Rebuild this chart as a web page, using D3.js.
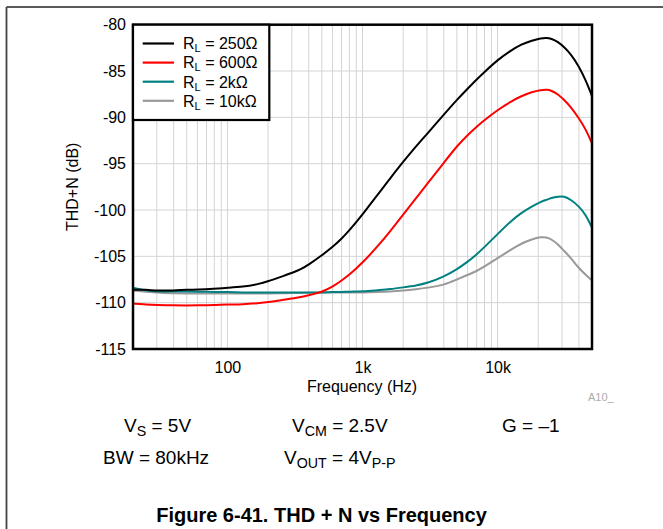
<!DOCTYPE html>
<html>
<head>
<meta charset="utf-8">
<script src="https://cdn.jsdelivr.net/npm/d3@7"></script>
<style>
  html, body { margin: 0; padding: 0; background: #fff; }
  svg { display: block; font-family: "Liberation Sans", Arial, sans-serif; }
</style>
</head>
<body>
<svg id="chart" width="663" height="529"></svg>
<script>
// ---- data ----
const freqs = [20, 25, 30, 40, 50, 60, 80, 100, 130, 170, 200, 250, 300, 350, 400, 500, 600, 700, 800, 1000,
  1300, 1600, 2000, 2500, 3000, 4000, 5000, 6000, 7000, 8000, 10000, 12500, 15000, 18000, 21000, 23000,
  25000, 28000, 31000, 35000, 40000, 45000, 50000];

const rl250 = [-108.6, -108.6, -108.7, -108.7, -108.6, -108.6, -108.5, -108.4, -108.3, -108.0, -107.7, -107.2, -106.8, -106.4, -105.9, -104.9, -104.0, -103.1, -102.2, -100.5,
  -98.3, -96.6, -94.8, -93.1, -91.8, -89.7, -88.1, -86.9, -85.9, -85.1, -83.8, -82.8, -82.1, -81.7, -81.45, -81.4,
  -81.5, -81.85, -82.4, -83.2, -84.5, -86.0, -87.7];

const rl600 = [-110.1, -110.2, -110.25, -110.3, -110.3, -110.3, -110.25, -110.2, -110.2, -110.05, -109.95, -109.75, -109.55, -109.4, -109.2, -108.85, -108.3, -107.6, -107.0, -105.7,
  -103.9, -102.3, -100.5, -98.7, -97.2, -94.9, -93.1, -91.9, -91.0, -90.3, -89.2, -88.3, -87.7, -87.25, -87.05, -87.0,
  -87.1, -87.5, -88.1, -88.9, -90.1, -91.3, -92.8];

const rl2k = [-108.4, -108.7, -108.8, -108.8, -108.8, -108.8, -108.85, -108.85, -108.9, -108.9, -108.9, -108.9, -108.9, -108.9, -108.9, -108.9, -108.85, -108.85, -108.8, -108.8,
  -108.65, -108.55, -108.35, -108.15, -107.9, -107.2, -106.4, -105.6, -104.8, -104.0, -102.6, -101.2, -100.3, -99.6, -99.1, -98.9,
  -98.7, -98.55, -98.5, -98.9, -99.6, -100.5, -101.9];

const rl10k = [-108.7, -108.85, -108.9, -109.0, -109.0, -109.0, -109.0, -109.0, -109.0, -109.0, -109.0, -109.0, -108.95, -108.95, -108.95, -108.9, -108.9, -108.9, -108.9, -108.9,
  -108.85, -108.8, -108.7, -108.55, -108.4, -108.1, -107.5, -107.0, -106.6, -106.1, -105.2, -104.3, -103.6, -103.15, -102.9, -102.95,
  -103.15, -103.7, -104.4, -105.2, -106.3, -107.0, -107.6];

const seriesLabels = ["250Ω", "600Ω", "2kΩ", "10kΩ"];
const seriesColors = ["#000000", "#ff0000", "#008080", "#999999"];
const seriesValues = [rl250, rl600, rl2k, rl10k];

const yTicks = [-80, -85, -90, -95, -100, -105, -110, -115];
const xTickValues = [100, 1000, 10000];
const xTickLabels = ["100", "1k", "10k"];

// ---- layout ----
const svg = d3.select("#chart");
const L = 133, R = 592, T = 24.7, B = 349;

const x = d3.scaleLog().domain([20, 50000]).range([L, R]);
const y = d3.scaleLinear().domain([-115, -80]).range([B, T]);

// outer frame lines
svg.append("line").attr("x1", 6.5).attr("x2", 663).attr("y1", 7).attr("y2", 7)
  .attr("stroke", "#222").attr("stroke-width", 1.5);
svg.append("line").attr("x1", 6.5).attr("x2", 6.5).attr("y1", 7).attr("y2", 529)
  .attr("stroke", "#444").attr("stroke-width", 1.8);

// grid
const minorX = [];
[10, 100, 1000, 10000].forEach(dec => {
  for (let m = 1; m <= 9; m++) {
    const v = dec * m;
    if (v > 20 && v < 50000) minorX.push(v);
  }
});
svg.append("g").selectAll("line").data(minorX).join("line")
  .attr("x1", d => x(d)).attr("x2", d => x(d)).attr("y1", T).attr("y2", B)
  .attr("stroke", "#d4d4d4").attr("stroke-width", 1);
svg.append("g").selectAll("line").data(yTicks.slice(1, -1)).join("line")
  .attr("x1", L).attr("x2", R).attr("y1", d => y(d)).attr("y2", d => y(d))
  .attr("stroke", "#d4d4d4").attr("stroke-width", 1);

// clip
svg.append("clipPath").attr("id", "clip").append("rect")
  .attr("x", L).attr("y", T).attr("width", R - L).attr("height", B - T);

const line = d3.line()
  .x((d, i) => x(freqs[i]))
  .y(d => y(d))
  .curve(d3.curveBasis);

const order = [3, 2, 1, 0];
svg.append("g").attr("clip-path", "url(#clip)").selectAll("path").data(order).join("path")
  .attr("d", i => line(seriesValues[i]))
  .attr("fill", "none")
  .attr("stroke", i => seriesColors[i])
  .attr("stroke-width", 2);

// axes
const yAxis = d3.axisLeft(y).tickValues(yTicks).tickSize(0).tickPadding(7).tickFormat(d => String(d));
const gy = svg.append("g").attr("transform", `translate(${L},0)`).call(yAxis);
gy.select(".domain").remove();
gy.selectAll("text").attr("font-size", 16).attr("fill", "#000").attr("font-family", "Liberation Sans, Arial, sans-serif");

const xAxis = d3.axisBottom(x).tickValues(xTickValues).tickSize(0).tickPadding(13)
  .tickFormat((d, i) => xTickLabels[i]);
const gx = svg.append("g").attr("transform", `translate(0,${B})`).call(xAxis);
gx.select(".domain").remove();
gx.selectAll("text").attr("font-size", 16).attr("fill", "#000").attr("font-family", "Liberation Sans, Arial, sans-serif");

// plot border
svg.append("rect").attr("x", L).attr("y", T).attr("width", R - L).attr("height", B - T)
  .attr("fill", "none").attr("stroke", "#000").attr("stroke-width", 2.5);

// axis titles
svg.append("text").attr("x", (L + R) / 2 - 0.5).attr("y", 391.5).attr("text-anchor", "middle")
  .attr("font-size", 16).text("Frequency (Hz)");
svg.append("text").attr("transform", `translate(77.5,${(T + B) / 2}) rotate(-90)`).attr("text-anchor", "middle")
  .attr("font-size", 16).text("THD+N (dB)");
svg.append("text").attr("x", 588).attr("y", 401).attr("font-size", 11).attr("fill", "#aaaaaa").text("A10_");

// legend
const lg = svg.append("g");
lg.append("rect").attr("x", L).attr("y", T).attr("width", 269.3 - L).attr("height", 120 - T)
  .attr("fill", "#fff").attr("stroke", "#000").attr("stroke-width", 2.2);
seriesLabels.forEach((lab, i) => {
  const yy = 43.5 + i * 19.1;
  lg.append("line").attr("x1", 142.7).attr("x2", 174).attr("y1", yy).attr("y2", yy)
    .attr("stroke", seriesColors[i]).attr("stroke-width", 2.2);
  const t = lg.append("text").attr("x", 183).attr("y", yy + 5.8).attr("font-size", 16);
  t.append("tspan").text("R");
  t.append("tspan").attr("font-size", 11).attr("dy", 3).text("L");
  t.append("tspan").attr("dy", -3).text(" = " + lab);
});

// bottom annotation
function sub(parent, xx, yy, parts, size) {
  const t = parent.append("text").attr("x", xx).attr("y", yy).attr("font-size", size);
  let shift = 0;
  parts.forEach(p => {
    const s = t.append("tspan").text(p[0]);
    if (p[1]) {
      s.attr("font-size", size * 0.75).attr("dy", 4 - shift);
      shift = 4;
    } else if (shift) {
      s.attr("dy", -shift);
      shift = 0;
    }
  });
  return t;
}
const fs = 19;
sub(svg, 124, 432, [["V"], ["S", 1], [" = 5V"]], fs);
sub(svg, 292, 432, [["V"], ["CM", 1], [" = 2.5V"]], fs);
sub(svg, 502, 432, [["G = –1"]], fs);
sub(svg, 103, 464, [["BW = 80kHz"]], fs);
sub(svg, 284, 464, [["V"], ["OUT", 1], [" = 4V"], ["P-P", 1]], fs);

svg.append("text").attr("x", 321.5).attr("y", 521.5).attr("text-anchor", "middle")
  .attr("font-size", 20).attr("font-weight", "bold").text("Figure 6-41. THD + N vs Frequency");
</script>
</body>
</html>
